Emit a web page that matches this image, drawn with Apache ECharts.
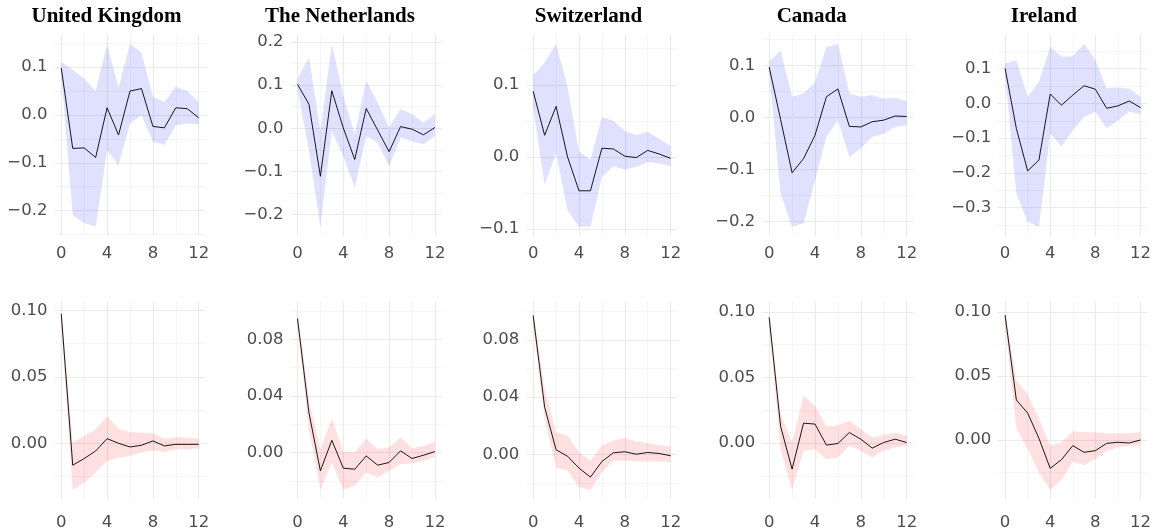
<!DOCTYPE html>
<html>
<head>
<meta charset="utf-8">
<script src="https://cdn.jsdelivr.net/npm/echarts@6/dist/echarts.min.js"></script>
<style>
  html, body { margin: 0; padding: 0; background: #ffffff; }
  #chart { width: 1154px; height: 531px; }
</style>
</head>
<body>
<div id="chart"></div>
<script>
// ---- data ---------------------------------------------------------------
const countries = ['United Kingdom', 'The Netherlands', 'Switzerland', 'Canada', 'Ireland'];
const horizon = [0, 1, 2, 3, 4, 5, 6, 7, 8, 9, 10, 11, 12];
const xTicks = [0, 4, 8, 12];

// first response (upper row): point estimate and band bounds
const uk_r1     = [0.098, -0.070, -0.069, -0.089, 0.015, -0.042, 0.050, 0.055, -0.024, -0.027, 0.015, 0.013, -0.006];
const uk_r1_hi  = [0.111, 0.094, 0.076, 0.050, 0.146, 0.057, 0.149, 0.130, 0.038, 0.027, 0.059, 0.050, 0.027];
const uk_r1_lo  = [0.085, -0.210, -0.226, -0.234, -0.074, -0.105, -0.018, 0.000, -0.056, -0.063, -0.022, -0.018, -0.020];

const nl_r1     = [0.102, 0.056, -0.111, 0.087, 0.001, -0.072, 0.046, -0.004, -0.054, 0.004, -0.002, -0.015, 0.002];
const nl_r1_hi  = [0.114, 0.165, -0.006, 0.196, 0.075, -0.014, 0.110, 0.060, 0.002, 0.044, 0.033, 0.013, 0.033];
const nl_r1_lo  = [0.090, -0.050, -0.228, -0.006, -0.064, -0.138, -0.018, -0.033, -0.088, -0.022, -0.030, -0.037, -0.018];

const ch_r1     = [0.091, 0.030, 0.070, 0.000, -0.047, -0.047, 0.012, 0.011, 0.001, -0.001, 0.009, 0.004, -0.002];
const ch_r1_hi  = [0.113, 0.131, 0.157, 0.097, 0.007, -0.004, 0.055, 0.050, 0.036, 0.030, 0.035, 0.025, 0.015];
const ch_r1_lo  = [0.068, -0.039, 0.005, -0.074, -0.097, -0.097, -0.028, -0.013, -0.018, -0.014, -0.007, -0.009, -0.013];

const ca_r1     = [0.097, -0.004, -0.106, -0.079, -0.034, 0.040, 0.055, -0.017, -0.018, -0.008, -0.005, 0.003, 0.002];
const ca_r1_hi  = [0.107, 0.129, 0.040, 0.046, 0.068, 0.135, 0.142, 0.046, 0.040, 0.043, 0.036, 0.038, 0.032];
const ca_r1_lo  = [0.085, -0.146, -0.210, -0.203, -0.120, -0.037, -0.005, -0.076, -0.059, -0.037, -0.031, -0.018, -0.015];

const ie_r1     = [0.101, -0.072, -0.194, -0.163, 0.027, -0.005, 0.024, 0.051, 0.041, -0.014, -0.007, 0.007, -0.012];
const ie_r1_hi  = [0.115, 0.124, 0.019, 0.062, 0.163, 0.134, 0.136, 0.172, 0.124, 0.043, 0.046, 0.043, 0.019];
const ie_r1_lo  = [0.085, -0.259, -0.340, -0.355, -0.086, -0.123, -0.077, -0.038, -0.024, -0.072, -0.048, -0.024, -0.031];

// second response (lower row)
const uk_r2     = [0.0975, -0.0165, -0.0115, -0.0058, 0.0035, 0.0000, -0.0028, -0.0015, 0.0018, -0.0020, -0.0008, -0.0008, -0.0008];
const uk_r2_hi  = [0.1000, 0.0005, 0.0055, 0.0105, 0.0205, 0.0110, 0.0085, 0.0080, 0.0075, 0.0035, 0.0048, 0.0043, 0.0035];
const uk_r2_lo  = [0.0880, -0.0352, -0.0295, -0.0220, -0.0133, -0.0108, -0.0095, -0.0070, -0.0053, -0.0065, -0.0045, -0.0045, -0.0040];

const nl_r2     = [0.0948, 0.0282, -0.0129, 0.0087, -0.0110, -0.0118, -0.0024, -0.0089, -0.0070, 0.0012, -0.0042, -0.0019, 0.0007];
const nl_r2_hi  = [0.1005, 0.0376, 0.0024, 0.0240, 0.0005, 0.0000, 0.0099, 0.0024, 0.0035, 0.0106, 0.0030, 0.0047, 0.0075];
const nl_r2_lo  = [0.0890, 0.0165, -0.0265, -0.0070, -0.0262, -0.0235, -0.0141, -0.0176, -0.0129, -0.0082, -0.0075, -0.0059, -0.0031];

const ch_r2     = [0.0970, 0.0330, 0.0033, -0.0012, -0.0095, -0.0158, -0.0049, 0.0012, 0.0019, 0.0002, 0.0014, 0.0007, -0.0009];
const ch_r2_hi  = [0.1005, 0.0458, 0.0156, 0.0133, 0.0016, -0.0042, 0.0063, 0.0098, 0.0114, 0.0091, 0.0081, 0.0067, 0.0056];
const ch_r2_lo  = [0.0900, 0.0249, -0.0093, -0.0112, -0.0228, -0.0248, -0.0123, -0.0042, -0.0042, -0.0049, -0.0049, -0.0049, -0.0053];

const ca_r2     = [0.0957, 0.0127, -0.0198, 0.0152, 0.0145, -0.0015, -0.0003, 0.0081, 0.0030, -0.0038, 0.0005, 0.0030, 0.0005];
const ca_r2_hi  = [0.1010, 0.0220, 0.0005, 0.0360, 0.0284, 0.0127, 0.0137, 0.0170, 0.0107, 0.0043, 0.0061, 0.0081, 0.0056];
const ca_r2_lo  = [0.0880, -0.0046, -0.0357, -0.0058, -0.0046, -0.0122, -0.0109, -0.0020, -0.0058, -0.0109, -0.0058, -0.0033, -0.0020];

const ie_r2     = [0.0974, 0.0312, 0.0210, 0.0013, -0.0221, -0.0153, -0.0044, -0.0096, -0.0083, -0.0026, -0.0018, -0.0023, 0.0000];
const ie_r2_hi  = [0.1010, 0.0462, 0.0358, 0.0164, -0.0044, -0.0018, 0.0068, 0.0060, 0.0060, 0.0052, 0.0052, 0.0052, 0.0060];
const ie_r2_lo  = [0.0900, 0.0091, -0.0070, -0.0252, -0.0390, -0.0309, -0.0169, -0.0195, -0.0148, -0.0083, -0.0057, -0.0044, -0.0036];

// y-axis tick labels of each panel
const r1_yTicks = [
  [-0.2, -0.1, 0.0, 0.1],
  [-0.2, -0.1, 0.0, 0.1, 0.2],
  [-0.1, 0.0, 0.1],
  [-0.2, -0.1, 0.0, 0.1],
  [-0.3, -0.2, -0.1, 0.0, 0.1]
];
const r2_yTicks = [
  [0.00, 0.05, 0.10],
  [0.00, 0.04, 0.08],
  [0.00, 0.04, 0.08],
  [0.00, 0.05, 0.10],
  [0.00, 0.05, 0.10]
];

// ---- layout ---------------------------------------------------------------
const colLeft = [54.4, 290.6, 526.3, 762.3, 998.3];
const panelW = 151.2;
const rows = [
  { top: 34.5, height: 201.5, fill: 'rgba(0,0,255,0.12)', digits: 1, labelMargin: 9 },
  { top: 301.5, height: 198.5, fill: 'rgba(255,0,0,0.12)', digits: 2, labelMargin: 15 }
];
const titleCenters = [106.5, 340, 588.5, 811.7, 1043.8];

const panels = [
  { row: 0, col: 0, mid: uk_r1, lo: uk_r1_lo, hi: uk_r1_hi, ticks: r1_yTicks[0] },
  { row: 0, col: 1, mid: nl_r1, lo: nl_r1_lo, hi: nl_r1_hi, ticks: r1_yTicks[1] },
  { row: 0, col: 2, mid: ch_r1, lo: ch_r1_lo, hi: ch_r1_hi, ticks: r1_yTicks[2] },
  { row: 0, col: 3, mid: ca_r1, lo: ca_r1_lo, hi: ca_r1_hi, ticks: r1_yTicks[3] },
  { row: 0, col: 4, mid: ie_r1, lo: ie_r1_lo, hi: ie_r1_hi, ticks: r1_yTicks[4] },
  { row: 1, col: 0, mid: uk_r2, lo: uk_r2_lo, hi: uk_r2_hi, ticks: r2_yTicks[0] },
  { row: 1, col: 1, mid: nl_r2, lo: nl_r2_lo, hi: nl_r2_hi, ticks: r2_yTicks[1] },
  { row: 1, col: 2, mid: ch_r2, lo: ch_r2_lo, hi: ch_r2_hi, ticks: r2_yTicks[2] },
  { row: 1, col: 3, mid: ca_r2, lo: ca_r2_lo, hi: ca_r2_hi, ticks: r2_yTicks[3] },
  { row: 1, col: 4, mid: ie_r2, lo: ie_r2_lo, hi: ie_r2_hi, ticks: r2_yTicks[4] }
];

const labelFont = { color: '#4d4d4d', fontSize: 16.5, fontFamily: 'DejaVu Sans, Verdana, sans-serif' };
const majorGrid = { color: '#ebebeb', width: 1.2 };
const minorGrid = { color: '#f0f0f0', width: 0.7 };

// 5% padding on each side of the data range
function padded(lo, hi) {
  const span = hi - lo;
  return [lo - 0.05 * span, hi + 0.05 * span];
}
function minorBetween(ticks, range) {
  const step = ticks[1] - ticks[0];
  const out = [];
  for (let i = -1; i < ticks.length; i++) {
    const v = +(ticks[0] + (i + 0.5) * step).toFixed(6);
    if (v > range[0] && v < range[1]) out.push(v);
  }
  return out;
}
function fmt(v, digits) {
  return v.toFixed(digits).replace('-', '\u2212');
}

const grid = [], xAxis = [], yAxis = [], series = [];
const xRange = padded(0, 12);
const xMinor = minorBetween(xTicks, xRange);

panels.forEach((p, i) => {
  const row = rows[p.row];
  grid.push({ left: colLeft[p.col], top: row.top, width: panelW, height: row.height, containLabel: false });

  const yRange = padded(Math.min(...p.lo, ...p.mid), Math.max(...p.hi, ...p.mid));
  const yMinor = minorBetween(p.ticks, yRange);

  // major axes carry labels and major grid lines; minor axes only draw grid lines
  xAxis.push({
    type: 'value', gridIndex: i, min: xRange[0], max: xRange[1],
    axisLine: { show: false },
    axisTick: { show: false, customValues: xTicks },
    axisLabel: Object.assign({ customValues: xTicks, margin: row.labelMargin, formatter: v => String(v) }, labelFont),
    splitLine: { show: true, lineStyle: majorGrid }
  });
  xAxis.push({
    type: 'value', gridIndex: i, min: xRange[0], max: xRange[1], position: 'bottom',
    axisLine: { show: false },
    axisTick: { show: false, customValues: xMinor },
    axisLabel: { show: false, customValues: xMinor },
    splitLine: { show: true, lineStyle: minorGrid }
  });
  yAxis.push({
    type: 'value', gridIndex: i, min: yRange[0], max: yRange[1],
    axisLine: { show: false },
    axisTick: { show: false, customValues: p.ticks },
    axisLabel: Object.assign({ customValues: p.ticks, margin: 7, formatter: v => fmt(v, row.digits) }, labelFont),
    splitLine: { show: true, lineStyle: majorGrid }
  });
  yAxis.push({
    type: 'value', gridIndex: i, min: yRange[0], max: yRange[1], position: 'left',
    axisLine: { show: false },
    axisTick: { show: false, customValues: yMinor },
    axisLabel: { show: false, customValues: yMinor },
    splitLine: { show: true, lineStyle: minorGrid }
  });

  const lo = p.lo, hi = p.hi, fill = row.fill;
  series.push({
    type: 'custom',
    xAxisIndex: 2 * i, yAxisIndex: 2 * i,
    silent: true,
    z: 2,
    data: horizon.map((t, k) => [t, lo[k], hi[k]]),
    encode: { x: 0, y: [1, 2] },
    renderItem: (params, api) => {
      if (params.dataIndex !== 0) return null;
      const pts = [];
      for (let k = 0; k < horizon.length; k++) pts.push(api.coord([horizon[k], hi[k]]));
      for (let k = horizon.length - 1; k >= 0; k--) pts.push(api.coord([horizon[k], lo[k]]));
      return { type: 'polygon', shape: { points: pts }, style: { fill: fill, stroke: null } };
    }
  });
  series.push({
    type: 'line',
    xAxisIndex: 2 * i, yAxisIndex: 2 * i,
    z: 3,
    silent: true,
    showSymbol: false,
    data: horizon.map((t, k) => [t, p.mid[k]]),
    lineStyle: { color: '#000000', width: 0.9 }
  });
});

const title = countries.map((name, c) => ({
  text: name,
  left: titleCenters[c],
  top: 6,
  padding: 0,
  textAlign: 'center',
  textStyle: { fontFamily: 'Liberation Serif, serif', fontWeight: 'bold', fontSize: 21, color: '#000000' }
}));

const chart = echarts.init(document.getElementById('chart'), null, { renderer: 'canvas' });
chart.setOption({
  animation: false,
  backgroundColor: '#ffffff',
  title: title,
  grid: grid,
  xAxis: xAxis,
  yAxis: yAxis,
  series: series
});
</script>
</body>
</html>
